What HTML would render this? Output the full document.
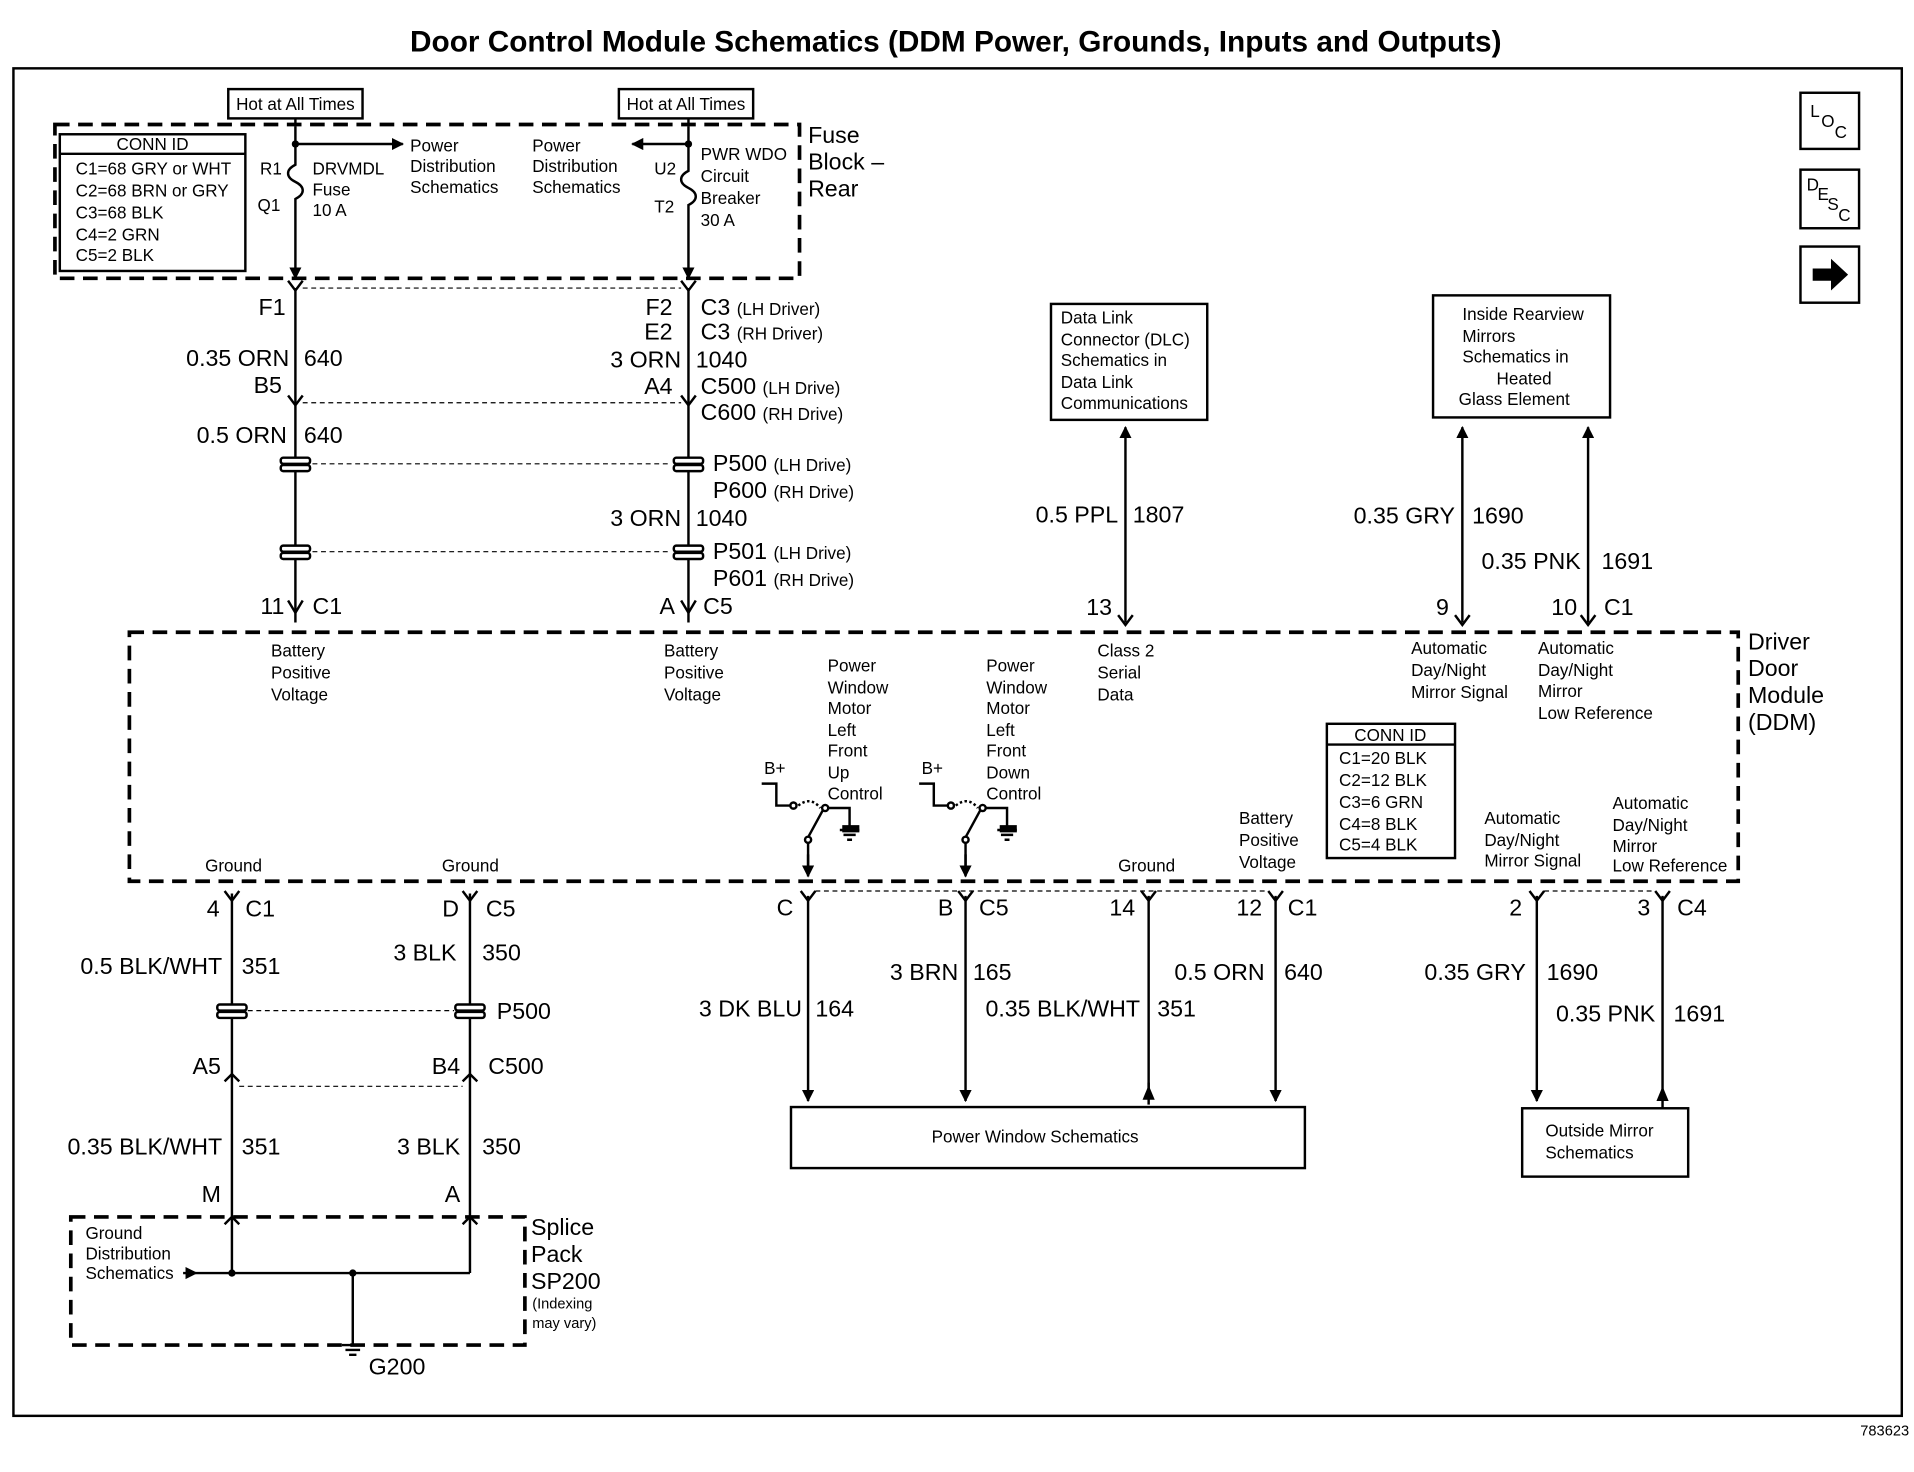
<!DOCTYPE html>
<html><head><meta charset="utf-8"><style>
html,body{margin:0;padding:0;background:#fff}
svg{display:block}
text{font-family:"Liberation Sans",Arial,sans-serif;fill:#000}
.s{font-size:14px}.m{font-size:19px}.e{text-anchor:end}.sm{font-size:12px}
.w{stroke:#000;stroke-width:2;fill:none}
.d{stroke:#000;stroke-width:3;fill:none;stroke-dasharray:12 7}
.dl{stroke:#000;stroke-width:1;fill:none;stroke-dasharray:4 3}
</style></head><body>
<svg width="1914" height="1472" viewBox="0 0 1568 1206" preserveAspectRatio="none">
<defs>
<marker id="a" viewBox="0 0 10 10" refX="9" refY="5" markerWidth="5" markerHeight="5" orient="auto"><path d="M0,0L10,5L0,10z"/></marker>
</defs>
<text x="783" y="42" text-anchor="middle" style="font-size:24.4px;font-weight:bold">Door Control Module Schematics (DDM Power, Grounds, Inputs and Outputs)</text>
<rect x="11" y="56" width="1547" height="1104" class="w"/>
<text x="1564" y="1176" class="sm" text-anchor="end">783623</text>

<rect x="187" y="73" width="110" height="24" class="w"/><text x="242" y="90" class="s" text-anchor="middle">Hot at All Times</text>
<rect x="507" y="73" width="110" height="24" class="w"/><text x="562" y="90" class="s" text-anchor="middle">Hot at All Times</text>
<line x1="242" y1="97" x2="242" y2="104" class="w"/><line x1="564" y1="97" x2="564" y2="104" class="w"/>

<rect x="45" y="102" width="610" height="126" class="d"/>
<text x="662" y="117" class="m">Fuse</text><text x="662" y="139" class="m">Block –</text><text x="662" y="161" class="m">Rear</text>
<rect x="49" y="110" width="152" height="112" class="w"/><line x1="49" y1="126" x2="201" y2="126" class="w"/>
<text x="125" y="123" class="s" text-anchor="middle">CONN ID</text>
<text x="62" y="143" class="s">C1=68 GRY or WHT</text><text x="62" y="161" class="s">C2=68 BRN or GRY</text>
<text x="62" y="179" class="s">C3=68 BLK</text><text x="62" y="197" class="s">C4=2 GRN</text><text x="62" y="214" class="s">C5=2 BLK</text>
<text x="213" y="143" class="s">R1</text><text x="211" y="173" class="s">Q1</text>
<path d="M242,104V135 c-8,4 -8,10 0,14 c8,4 8,10 0,14 V228" class="w" marker-end="url(#a)"/>
<circle cx="242" cy="118" r="3"/><line x1="242" y1="118" x2="330" y2="118" class="w" marker-end="url(#a)"/>
<text x="256" y="143" class="s">DRVMDL</text><text x="256" y="160" class="s">Fuse</text><text x="256" y="177" class="s">10 A</text>
<text x="336" y="124" class="s">Power</text><text x="336" y="141" class="s">Distribution</text><text x="336" y="158" class="s">Schematics</text>
<text x="436" y="124" class="s">Power</text><text x="436" y="141" class="s">Distribution</text><text x="436" y="158" class="s">Schematics</text>
<path d="M564,104V140 c-8,4 -8,10 0,14 c8,4 8,10 0,14 V228" class="w" marker-end="url(#a)"/>
<circle cx="564" cy="118" r="3"/><line x1="564" y1="118" x2="518" y2="118" class="w" marker-end="url(#a)"/>
<text x="536" y="143" class="s">U2</text><text x="536" y="174" class="s">T2</text>
<text x="574" y="131" class="s">PWR WDO</text><text x="574" y="149" class="s">Circuit</text><text x="574" y="167" class="s">Breaker</text><text x="574" y="185" class="s">30 A</text>

<line x1="242" y1="236" x2="242" y2="510" class="w"/><line x1="564" y1="236" x2="564" y2="510" class="w"/>
<path d="M236,230L242,238L248,230M558,230L564,238L570,230M236,324L242,332L248,324M558,324L564,332L570,324M236,492L242,502L248,492M558,492L564,502L570,492" class="w"/>
<line x1="248" y1="236" x2="558" y2="236" class="dl"/><line x1="248" y1="330" x2="558" y2="330" class="dl"/>
<line x1="256" y1="380" x2="550" y2="380" class="dl"/><line x1="256" y1="452" x2="550" y2="452" class="dl"/>
<g fill="#fff" stroke="#000" stroke-width="2"><rect x="230" y="375" width="24" height="5" rx="2"/><rect x="230" y="381" width="24" height="5" rx="2"/>
<rect x="230" y="447" width="24" height="5" rx="2"/><rect x="230" y="453" width="24" height="5" rx="2"/>
<rect x="552" y="375" width="24" height="5" rx="2"/><rect x="552" y="381" width="24" height="5" rx="2"/>
<rect x="552" y="447" width="24" height="5" rx="2"/><rect x="552" y="453" width="24" height="5" rx="2"/></g>
<text x="234" y="258" class="m e">F1</text>
<text x="237" y="300" class="m e">0.35 ORN</text><text x="249" y="300" class="m">640</text>
<text x="231" y="322" class="m e">B5</text>
<text x="235" y="363" class="m e">0.5 ORN</text><text x="249" y="363" class="m">640</text>
<text x="551" y="258" class="m e">F2</text><text x="551" y="278" class="m e">E2</text>
<text x="574" y="258" class="m">C3 <tspan class="s">(LH Driver)</tspan></text><text x="574" y="278" class="m">C3 <tspan class="s">(RH Driver)</tspan></text>
<text x="558" y="301" class="m e">3 ORN</text><text x="570" y="301" class="m">1040</text>
<text x="551" y="323" class="m e">A4</text>
<text x="574" y="323" class="m">C500 <tspan class="s">(LH Drive)</tspan></text><text x="574" y="344" class="m">C600 <tspan class="s">(RH Drive)</tspan></text>
<text x="584" y="386" class="m">P500 <tspan class="s">(LH Drive)</tspan></text><text x="584" y="408" class="m">P600 <tspan class="s">(RH Drive)</tspan></text>
<text x="558" y="431" class="m e">3 ORN</text><text x="570" y="431" class="m">1040</text>
<text x="584" y="458" class="m">P501 <tspan class="s">(LH Drive)</tspan></text><text x="584" y="480" class="m">P601 <tspan class="s">(RH Drive)</tspan></text>
<text x="233" y="503" class="m e">11</text><text x="256" y="503" class="m">C1</text>
<text x="553" y="503" class="m e">A</text><text x="576" y="503" class="m">C5</text>

<rect x="861" y="249" width="128" height="95" class="w"/>
<text x="869" y="265" class="s">Data Link</text><text x="869" y="283" class="s">Connector (DLC)</text><text x="869" y="300" class="s">Schematics in</text><text x="869" y="318" class="s">Data Link</text><text x="869" y="335" class="s">Communications</text>
<line x1="922" y1="510" x2="922" y2="350" class="w" marker-end="url(#a)"/>
<path d="M916,504L922,512L928,504" class="w"/>
<text x="916" y="428" class="m e">0.5 PPL</text><text x="928" y="428" class="m">1807</text>
<text x="911" y="504" class="m e">13</text>
<rect x="1174" y="242" width="145" height="100" class="w"/>
<text x="1198" y="262" class="s">Inside Rearview</text><text x="1198" y="280" class="s">Mirrors</text><text x="1198" y="297" class="s">Schematics in</text><text x="1226" y="315" class="s">Heated</text><text x="1195" y="332" class="s">Glass Element</text>
<line x1="1198" y1="510" x2="1198" y2="350" class="w" marker-end="url(#a)"/>
<line x1="1301" y1="510" x2="1301" y2="350" class="w" marker-end="url(#a)"/>
<path d="M1192,504L1198,512L1204,504M1295,504L1301,512L1307,504" class="w"/>
<text x="1192" y="429" class="m e">0.35 GRY</text><text x="1206" y="429" class="m">1690</text>
<text x="1295" y="466" class="m e">0.35 PNK</text><text x="1312" y="466" class="m">1691</text>
<text x="1187" y="504" class="m e">9</text><text x="1292" y="504" class="m e">10</text><text x="1314" y="504" class="m">C1</text>

<rect x="1475" y="76" width="48" height="46" class="w" stroke-width="3"/>
<text x="1483" y="96" class="s">L</text><text x="1492" y="104" class="s">O</text><text x="1503" y="113" class="s">C</text>
<rect x="1475" y="139" width="48" height="48" class="w" stroke-width="3"/>
<text x="1480" y="156" class="s">D</text><text x="1489" y="164" class="s">E</text><text x="1497" y="172" class="s">S</text><text x="1506" y="181" class="s">C</text>
<rect x="1475" y="202" width="48" height="46" class="w" stroke-width="3"/>
<path d="M1485,220H1500V212L1514,225L1500,238V230H1485Z"/>

<rect x="106" y="518" width="1318" height="204" class="d"/>
<text x="1432" y="532" class="m">Driver</text><text x="1432" y="554" class="m">Door</text><text x="1432" y="576" class="m">Module</text><text x="1432" y="598" class="m">(DDM)</text>
<g class="s">
<text x="222" y="538">Battery</text><text x="222" y="556">Positive</text><text x="222" y="574">Voltage</text>
<text x="544" y="538">Battery</text><text x="544" y="556">Positive</text><text x="544" y="574">Voltage</text>
<text x="678" y="550">Power</text><text x="678" y="568">Window</text><text x="678" y="585">Motor</text><text x="678" y="603">Left</text><text x="678" y="620">Front</text><text x="678" y="638">Up</text><text x="678" y="655">Control</text>
<text x="808" y="550">Power</text><text x="808" y="568">Window</text><text x="808" y="585">Motor</text><text x="808" y="603">Left</text><text x="808" y="620">Front</text><text x="808" y="638">Down</text><text x="808" y="655">Control</text>
<text x="899" y="538">Class 2</text><text x="899" y="556">Serial</text><text x="899" y="574">Data</text>
<text x="1156" y="536">Automatic</text><text x="1156" y="554">Day/Night</text><text x="1156" y="572">Mirror Signal</text>
<text x="1260" y="536">Automatic</text><text x="1260" y="554">Day/Night</text><text x="1260" y="571">Mirror</text><text x="1260" y="589">Low Reference</text>
<text x="1015" y="675">Battery</text><text x="1015" y="693">Positive</text><text x="1015" y="711">Voltage</text>
<text x="1216" y="675">Automatic</text><text x="1216" y="693">Day/Night</text><text x="1216" y="710">Mirror Signal</text>
<text x="1321" y="663">Automatic</text><text x="1321" y="681">Day/Night</text><text x="1321" y="698">Mirror</text><text x="1321" y="714">Low Reference</text>
<text x="168" y="714">Ground</text><text x="362" y="714">Ground</text><text x="916" y="714">Ground</text>
</g>
<rect x="1087" y="593" width="105" height="110" class="w"/><line x1="1087" y1="610" x2="1192" y2="610" class="w"/>
<text x="1139" y="607" class="s" text-anchor="middle">CONN ID</text>
<text x="1097" y="626" class="s">C1=20 BLK</text><text x="1097" y="644" class="s">C2=12 BLK</text><text x="1097" y="662" class="s">C3=6 GRN</text><text x="1097" y="680" class="s">C4=8 BLK</text><text x="1097" y="697" class="s">C5=4 BLK</text>
<g class="w" stroke-width="1.5">
<text x="626" y="634" class="s" stroke="none">B+</text>
<path d="M624,642H636V660H648"/><circle cx="650" cy="660" r="2.5"/><circle cx="662" cy="688" r="2.5"/><path d="M662,686L674,664"/><circle cx="676" cy="662" r="2.5"/><path d="M678,662H696V678"/><path d="M654,660 Q664,652 672,662" stroke-dasharray="2 2"/>
<path d="M662,690V712"/>
<path d="M688,680H704M691,684H701M694,688H698"/>
<text x="755" y="634" class="s" stroke="none">B+</text>
<path d="M753,642H765V660H777"/><circle cx="779" cy="660" r="2.5"/><circle cx="791" cy="688" r="2.5"/><path d="M791,686L803,664"/><circle cx="805" cy="662" r="2.5"/><path d="M807,662H825V678"/><path d="M783,660 Q793,652 801,662" stroke-dasharray="2 2"/>
<path d="M791,690V712"/>
<path d="M817,680H833M820,684H830M823,688H827"/>
</g>
<path d="M690,676h14v6h-14zM819,676h14v6h-14z"/>
<line x1="662" y1="700" x2="662" y2="718" class="w" marker-end="url(#a)"/>
<line x1="791" y1="700" x2="791" y2="718" class="w" marker-end="url(#a)"/>

<line x1="190" y1="732" x2="190" y2="1043" class="w"/><line x1="385" y1="732" x2="385" y2="1043" class="w"/>
<path d="M184,730L190,738L196,730M379,730L385,738L391,730M184,886L190,880L196,886M379,886L385,880L391,886M184,1003L190,997L196,1003M379,1003L385,997L391,1003" class="w"/>
<line x1="203" y1="828" x2="372" y2="828" class="dl"/><line x1="196" y1="890" x2="379" y2="890" class="dl"/>
<g fill="#fff" stroke="#000" stroke-width="2"><rect x="178" y="823" width="24" height="5" rx="2"/><rect x="178" y="829" width="24" height="5" rx="2"/>
<rect x="373" y="823" width="24" height="5" rx="2"/><rect x="373" y="829" width="24" height="5" rx="2"/></g>
<text x="180" y="751" class="m e">4</text><text x="201" y="751" class="m">C1</text>
<text x="376" y="751" class="m e">D</text><text x="398" y="751" class="m">C5</text>
<text x="182" y="798" class="m e">0.5 BLK/WHT</text><text x="198" y="798" class="m">351</text>
<text x="374" y="787" class="m e">3 BLK</text><text x="395" y="787" class="m">350</text>
<text x="407" y="835" class="m">P500</text>
<text x="181" y="880" class="m e">A5</text><text x="377" y="880" class="m e">B4</text><text x="400" y="880" class="m">C500</text>
<text x="182" y="946" class="m e">0.35 BLK/WHT</text><text x="198" y="946" class="m">351</text>
<text x="377" y="946" class="m e">3 BLK</text><text x="395" y="946" class="m">350</text>
<text x="181" y="985" class="m e">M</text><text x="377" y="985" class="m e">A</text>
<rect x="58" y="997" width="372" height="105" class="d"/>
<text x="435" y="1012" class="m">Splice</text><text x="435" y="1034" class="m">Pack</text><text x="435" y="1056" class="m">SP200</text>
<text x="436" y="1072" class="sm">(Indexing</text><text x="436" y="1088" class="sm">may vary)</text>
<text x="70" y="1015" class="s">Ground</text><text x="70" y="1032" class="s">Distribution</text><text x="70" y="1048" class="s">Schematics</text>
<line x1="150" y1="1043" x2="385" y2="1043" class="w"/><path d="M152,1038L162,1043L152,1048z"/>
<circle cx="190" cy="1043" r="3"/><circle cx="289" cy="1043" r="3"/>
<line x1="289" y1="1043" x2="289" y2="1102" class="w"/>
<path d="M280,1102h18M283,1106h12M286,1110h6" class="w"/>
<text x="302" y="1126" class="m">G200</text>

<path d="M656,730L662,738L668,730M785,730L791,738L797,730M935,730L941,738L947,730M1039,730L1045,738L1051,730M1253,730L1259,738L1265,730M1356,730L1362,738L1368,730" class="w"/>
<line x1="668" y1="730" x2="1039" y2="730" class="dl"/><line x1="1265" y1="730" x2="1356" y2="730" class="dl"/>
<line x1="662" y1="734" x2="662" y2="902" class="w" marker-end="url(#a)"/>
<line x1="791" y1="734" x2="791" y2="902" class="w" marker-end="url(#a)"/>
<line x1="941" y1="905" x2="941" y2="887" class="w"/><line x1="941" y1="734" x2="941" y2="892" class="w"/><path d="M936,901L941,889L946,901z"/>
<line x1="1045" y1="734" x2="1045" y2="902" class="w" marker-end="url(#a)"/>
<line x1="1259" y1="734" x2="1259" y2="902" class="w" marker-end="url(#a)"/>
<line x1="1362" y1="734" x2="1362" y2="908" class="w"/><path d="M1357,902L1362,890L1367,902z"/>
<text x="650" y="750" class="m e">C</text><text x="781" y="750" class="m e">B</text><text x="802" y="750" class="m">C5</text>
<text x="930" y="750" class="m e">14</text><text x="1034" y="750" class="m e">12</text><text x="1055" y="750" class="m">C1</text>
<text x="785" y="803" class="m e">3 BRN</text><text x="797" y="803" class="m">165</text>
<text x="657" y="833" class="m e">3 DK BLU</text><text x="668" y="833" class="m">164</text>
<text x="934" y="833" class="m e">0.35 BLK/WHT</text><text x="948" y="833" class="m">351</text>
<text x="1036" y="803" class="m e">0.5 ORN</text><text x="1052" y="803" class="m">640</text>
<rect x="648" y="907" width="421" height="50" class="w"/>
<text x="848" y="936" class="s" text-anchor="middle">Power Window Schematics</text>
<text x="1247" y="750" class="m e">2</text><text x="1352" y="750" class="m e">3</text><text x="1374" y="750" class="m">C4</text>
<text x="1250" y="803" class="m e">0.35 GRY</text><text x="1267" y="803" class="m">1690</text>
<text x="1356" y="837" class="m e">0.35 PNK</text><text x="1371" y="837" class="m">1691</text>
<rect x="1247" y="908" width="136" height="56" class="w"/>
<text x="1266" y="931" class="s">Outside Mirror</text><text x="1266" y="949" class="s">Schematics</text>
</svg>
</body></html>
